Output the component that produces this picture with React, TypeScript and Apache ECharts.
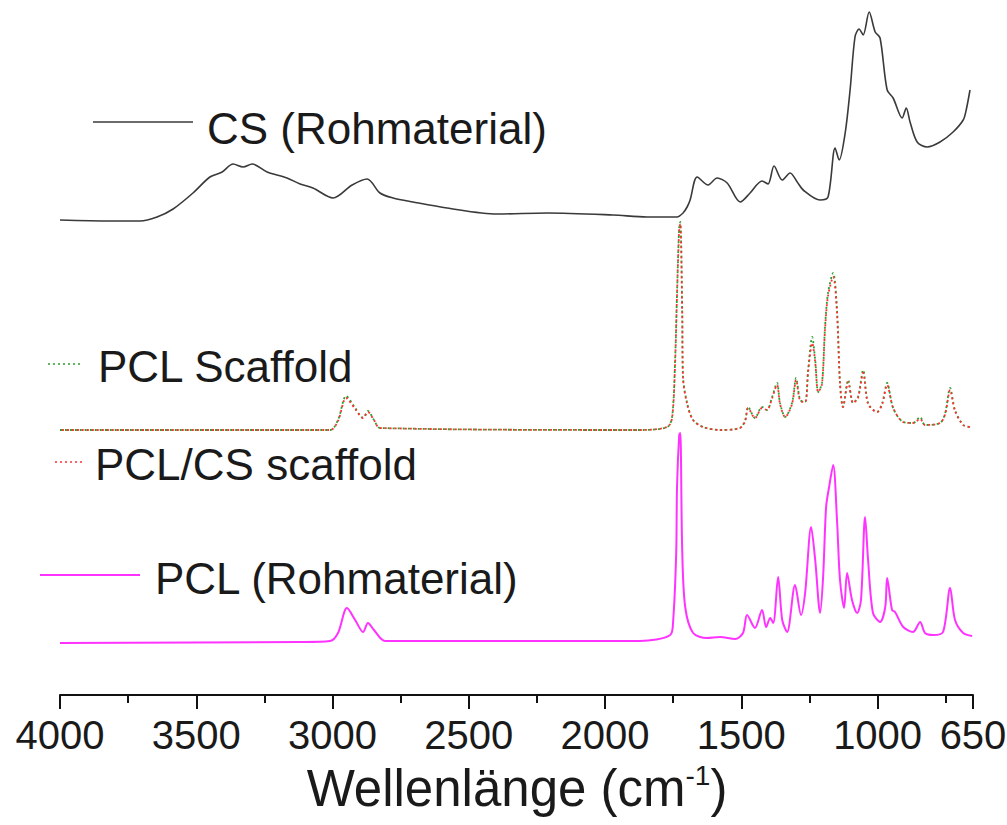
import React, { useEffect, useRef } from "react";
import * as echarts from "echarts";

// Wavenumbers (cm^-1) and offset intensities (a.u.)
const csWave = [4000, 3817, 3706, 3644, 3585, 3512, 3450, 3405, 3365, 3328, 3295, 3240, 3167, 3119, 3072, 2998, 2928, 2873, 2826, 2778, 2705, 2580, 2396, 2213, 1971, 1846, 1754, 1736, 1714, 1699, 1688, 1662, 1622, 1589, 1552, 1504, 1468, 1424, 1402, 1380, 1350, 1321, 1295, 1273, 1211, 1182, 1156, 1141, 1119, 1101, 1083, 1068, 1053, 1031, 1009, 991, 965, 943, 910, 895, 881, 855, 818, 771, 723, 686, 675, 661];
const csVal = [475, 474, 474, 478, 486, 502, 518, 523, 531, 528, 531, 523, 517, 511, 507, 497, 510, 516, 502, 497, 493, 487, 481, 482, 480, 478, 478, 478, 482, 488, 495, 518, 510, 517, 512, 493, 502, 514, 511, 529, 515, 522, 513, 505, 495, 498, 547, 535, 562, 605, 658, 666, 660, 683, 663, 657, 605, 597, 577, 587, 573, 553, 548, 553, 563, 575, 585, 605];

const scWave = [4000, 3009, 2980, 2950, 2917, 2888, 2870, 2848, 2826, 1872, 1772, 1754, 1743, 1736, 1728, 1724, 1717, 1714, 1699, 1677, 1640, 1578, 1505, 1486, 1475, 1450, 1424, 1406, 1387, 1369, 1358, 1339, 1314, 1299, 1284, 1266, 1255, 1240, 1229, 1218, 1204, 1193, 1182, 1163, 1149, 1138, 1127, 1108, 1090, 1072, 1053, 1035, 1002, 983, 965, 943, 906, 870, 844, 826, 771, 752, 734, 716, 686, 661];
const pclScaffoldVal = [265, 265, 275, 299, 287, 277, 284, 275, 267, 265, 268, 278, 335, 402, 468, 473, 385, 318, 292, 275, 268, 265, 267, 275, 288, 277, 288, 285, 298, 312, 292, 278, 292, 317, 295, 293, 325, 358, 335, 303, 312, 368, 402, 422, 385, 312, 288, 315, 292, 298, 325, 292, 283, 292, 312, 287, 273, 272, 278, 270, 272, 282, 307, 285, 270, 268];
const pclCsScaffoldVal = [265, 265, 274, 297, 286, 277, 283, 275, 267, 265, 268, 277, 332, 400, 466, 471, 383, 317, 291, 275, 268, 265, 267, 274, 287, 277, 287, 285, 297, 310, 291, 278, 291, 315, 294, 293, 323, 352, 333, 303, 311, 365, 399, 418, 382, 311, 288, 313, 292, 297, 322, 291, 283, 291, 310, 287, 273, 272, 276, 270, 272, 281, 305, 284, 270, 268];

const pclWave = [4000, 3119, 3009, 2980, 2947, 2917, 2888, 2870, 2848, 2807, 1872, 1761, 1750, 1739, 1736, 1728, 1724, 1717, 1706, 1677, 1626, 1578, 1523, 1494, 1479, 1450, 1424, 1409, 1394, 1383, 1365, 1350, 1332, 1303, 1281, 1266, 1244, 1229, 1211, 1200, 1189, 1178, 1163, 1149, 1138, 1123, 1112, 1094, 1075, 1061, 1046, 1035, 1017, 991, 972, 965, 947, 936, 906, 870, 844, 826, 796, 760, 734, 716, 686, 653];
const pclVal = [52, 53, 54, 62, 87, 75, 63, 72, 65, 54, 54, 60, 75, 142, 208, 260, 262, 145, 88, 62, 57, 58, 56, 62, 80, 67, 85, 68, 77, 72, 118, 75, 63, 110, 80, 102, 168, 135, 82, 118, 188, 208, 230, 175, 115, 87, 122, 95, 82, 95, 178, 135, 82, 73, 88, 117, 85, 83, 68, 63, 73, 62, 60, 63, 107, 75, 62, 59];

const majorTicks = [4000, 3500, 3000, 2500, 2000, 1500, 1000, 650];
const minorTicks = [3750, 3250, 2750, 2250, 1750, 1250, 750];

const legendNames = ["CS (Rohmaterial)", "PCL Scaffold", "PCL/CS scaffold", "PCL (Rohmaterial)"];

const zip = (w: number[], v: number[]) => {
  const n = Math.min(w.length, v.length);
  const out: number[][] = [];
  for (let i = 0; i < n; i++) out.push([w[i], v[i]]);
  return out;
};

const FONT = "Arial, 'Liberation Sans', sans-serif";
const TXT = "#1a1a1a";

export default function App() {
  const ref = useRef<HTMLDivElement>(null);
  useEffect(() => {
    if (!ref.current) return;
    const chart = echarts.init(ref.current, undefined, { renderer: "svg" });
    const legendFont = { fontSize: 44, fontFamily: FONT, fill: TXT };
    chart.setOption({
      animation: false,
      backgroundColor: "#ffffff",
      grid: { left: 60, right: 34, top: 0, bottom: 130, outerBoundsMode: "none" },
      xAxis: [
        {
          type: "value",
          min: 650,
          max: 4000,
          inverse: true,
          position: "bottom",
          axisLine: { show: true, lineStyle: { color: "#111", width: 2 } },
          axisTick: { show: true, customValues: majorTicks, length: 14, lineStyle: { color: "#111", width: 2 } },
          axisLabel: {
            show: true, customValues: majorTicks, fontSize: 40, fontFamily: FONT, color: TXT, margin: 20,
            formatter: (v: number) => String(v),
          },
          splitLine: { show: false },
        },
        {
          type: "value",
          min: 650,
          max: 4000,
          inverse: true,
          position: "bottom",
          axisLine: { show: false },
          axisTick: { show: true, customValues: minorTicks, length: 8, lineStyle: { color: "#111", width: 2 } },
          axisLabel: { show: false },
          splitLine: { show: false },
        },
      ],
      yAxis: { type: "value", min: 0, max: 695, show: false },
      series: [
        {
          name: legendNames[0], type: "line", xAxisIndex: 0, data: zip(csWave, csVal), showSymbol: false,
          smooth: 0.3, lineStyle: { color: "#3a3a3a", width: 1.6 },
        },
        {
          name: legendNames[1], type: "line", xAxisIndex: 0, data: zip(scWave, pclScaffoldVal), showSymbol: false,
          smooth: 0.3, lineStyle: { color: "#2e9e2e", width: 1.8, type: [2, 3], dashOffset: 0 },
        },
        {
          name: legendNames[2], type: "line", xAxisIndex: 0, data: zip(scWave, pclCsScaffoldVal), showSymbol: false,
          smooth: 0.3, lineStyle: { color: "#ff3030", width: 1.8, type: [2, 3], dashOffset: 2.5 },
        },
        {
          name: legendNames[3], type: "line", xAxisIndex: 0, data: zip(pclWave, pclVal), showSymbol: false,
          smooth: 0.3, lineStyle: { color: "#ff33ff", width: 2 },
        },
      ],
      graphic: [
        { type: "line", shape: { x1: 93, y1: 122, x2: 193, y2: 122 }, style: { stroke: "#3a3a3a", lineWidth: 1.6 } },
        { type: "text", x: 207, y: 128, style: { ...legendFont, text: legendNames[0], verticalAlign: "middle" } },
        { type: "line", shape: { x1: 48, y1: 364, x2: 82, y2: 364 }, style: { stroke: "#2e9e2e", lineWidth: 1.6, lineDash: [2, 3] } },
        { type: "text", x: 98, y: 366, style: { ...legendFont, text: legendNames[1], verticalAlign: "middle" } },
        { type: "line", shape: { x1: 55, y1: 462, x2: 83, y2: 462 }, style: { stroke: "#ff3030", lineWidth: 1.6, lineDash: [2, 3] } },
        { type: "text", x: 95, y: 464, style: { ...legendFont, text: legendNames[2], verticalAlign: "middle" } },
        { type: "line", shape: { x1: 40, y1: 575, x2: 140, y2: 575 }, style: { stroke: "#ff33ff", lineWidth: 2 } },
        { type: "text", x: 155, y: 578, style: { ...legendFont, text: legendNames[3], verticalAlign: "middle" } },
        {
          type: "text",
          x: 517,
          y: 788,
          style: {
            text: "{a|Wellenlänge (cm}{s|-1}{a|)}",
            align: "center",
            verticalAlign: "middle",
            fill: TXT,
            fontFamily: FONT,
            rich: {
              a: { fontSize: 51, fontFamily: FONT, fill: TXT },
              s: { fontSize: 28, fontFamily: FONT, fill: TXT, padding: [0, 0, 26, 0] },
            },
          },
        },
      ],
    });
    return () => chart.dispose();
  }, []);
  return <div ref={ref} style={{ position: "fixed", left: 0, top: 0, width: 1007, height: 825 }} />;
}
